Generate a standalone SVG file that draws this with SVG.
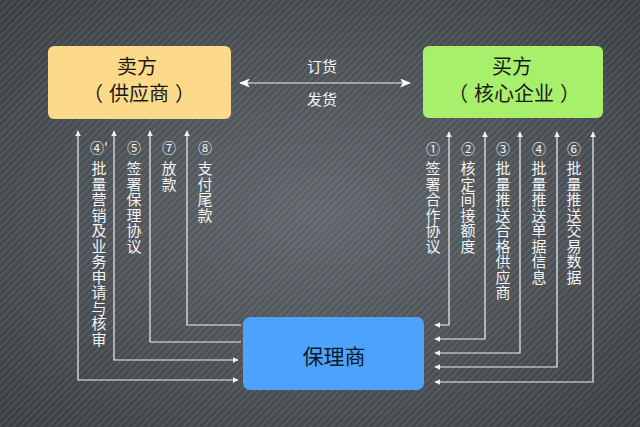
<svg xmlns="http://www.w3.org/2000/svg" width="640" height="427" viewBox="0 0 640 427">
<defs>
<radialGradient id="bg" cx="50%" cy="50%" r="70%">
<stop offset="0" stop-color="#5f656a"/>
<stop offset="1" stop-color="#393e43"/>
</radialGradient>
<pattern id="stripes" width="5" height="5" patternUnits="userSpaceOnUse" patternTransform="rotate(-45)">
<rect x="0" y="0" width="5" height="1.6" fill="#ffffff" fill-opacity="0.1"/>
</pattern>
<marker id="ah" viewBox="0 0 10 10" refX="9" refY="5" markerWidth="6" markerHeight="6" markerUnits="userSpaceOnUse" orient="auto-start-reverse">
<path d="M0,0 L10,5 L0,10 Z" fill="#f2f2f2"/>
</marker>
<marker id="big" viewBox="0 0 12 10" refX="11" refY="5" markerWidth="11" markerHeight="9" markerUnits="userSpaceOnUse" orient="auto-start-reverse">
<path d="M0,0 L12,5 L0,10 L3,5 Z" fill="#ffffff"/>
</marker>
</defs>
<style>
.node-text{font-family:"Noto Sans CJK SC","Noto Sans",sans-serif;text-anchor:middle;}
.lbl{font-family:"Noto Sans CJK SC","Noto Sans",sans-serif;fill:#f4f4f4;font-size:15px;}
.vt{writing-mode:vertical-rl;text-orientation:upright;letter-spacing:0.5px;}
.num{font-size:14px;text-anchor:middle;}
.conn{fill:none;stroke:#eeeeee;stroke-width:1.2;}
</style>
<rect x="0" y="0" width="640" height="427" fill="url(#bg)"/>
<rect x="0" y="0" width="640" height="427" fill="url(#stripes)"/>

<g id="connectors">
<path class="conn" d="M240,83 H410" stroke="#ffffff" stroke-width="2" marker-start="url(#big)" marker-end="url(#big)"/>
<path class="conn" d="M78,131 V380 H238" marker-start="url(#ah)" marker-end="url(#ah)"/>
<path class="conn" d="M114,131 V360 H238" marker-start="url(#ah)" marker-end="url(#ah)"/>
<path class="conn" d="M150,131 V342 H241" marker-start="url(#ah)"/>
<path class="conn" d="M187,131 V325 H241" marker-start="url(#ah)"/>
<path class="conn" d="M449,132 V325 H435" marker-start="url(#ah)" marker-end="url(#ah)"/>
<path class="conn" d="M485,132 V339 H435" marker-start="url(#ah)" marker-end="url(#ah)"/>
<path class="conn" d="M520,132 V353 H435" marker-start="url(#ah)" marker-end="url(#ah)"/>
<path class="conn" d="M557,132 V367 H435" marker-start="url(#ah)" marker-end="url(#ah)"/>
<path class="conn" d="M593,132 V382 H435" marker-start="url(#ah)" marker-end="url(#ah)"/>
</g>

<g id="edge-labels">
<text class="lbl" x="322" y="72" text-anchor="middle" font-size="16">订货</text>
<text class="lbl" x="322" y="105" text-anchor="middle" font-size="16">发货</text>

<text class="lbl num" x="99" y="153">④′</text>
<text class="lbl vt" x="99" y="161">批量营销及业务申请与核审</text>
<text class="lbl num" x="134" y="153">⑤</text>
<text class="lbl vt" x="134" y="161">签署保理协议</text>
<text class="lbl num" x="169" y="153">⑦</text>
<text class="lbl vt" x="169" y="161">放款</text>
<text class="lbl num" x="205" y="153">⑧</text>
<text class="lbl vt" x="205" y="161">支付尾款</text>

<text class="lbl num" x="433" y="154">①</text>
<text class="lbl vt" x="433" y="161">签署合作协议</text>
<text class="lbl num" x="468" y="154">②</text>
<text class="lbl vt" x="468" y="161">核定间接额度</text>
<text class="lbl num" x="503" y="154">③</text>
<text class="lbl vt" x="503" y="161">批量推送合格供应商</text>
<text class="lbl num" x="539" y="154">④</text>
<text class="lbl vt" x="539" y="161">批量推送单据信息</text>
<text class="lbl num" x="574" y="154">⑥</text>
<text class="lbl vt" x="574" y="161">批量推送交易数据</text>
</g>

<g id="seller">
<rect x="48" y="46" width="183" height="73" rx="6" fill="#fdd98a"/>
<text class="node-text" x="137" y="74" font-size="20" fill="#1a1a1a">卖方</text>
<text class="node-text" x="139" y="101" font-size="20" fill="#1a1a1a">（<tspan dx="6">供应商</tspan><tspan dx="6">）</tspan></text>
</g>

<g id="buyer">
<rect x="423" y="46" width="180" height="72" rx="6" fill="#a8f06c"/>
<text class="node-text" x="512" y="74" font-size="20" fill="#1a1a1a">买方</text>
<text class="node-text" x="514" y="101" font-size="20" fill="#1a1a1a">（<tspan dx="6">核心企业</tspan><tspan dx="6">）</tspan></text>
</g>

<g id="factor">
<rect x="243" y="317" width="181" height="73" rx="7" fill="#4da3fb"/>
<text class="node-text" x="334" y="364" font-size="21" fill="#0d1a2a">保理商</text>
</g>
</svg>
